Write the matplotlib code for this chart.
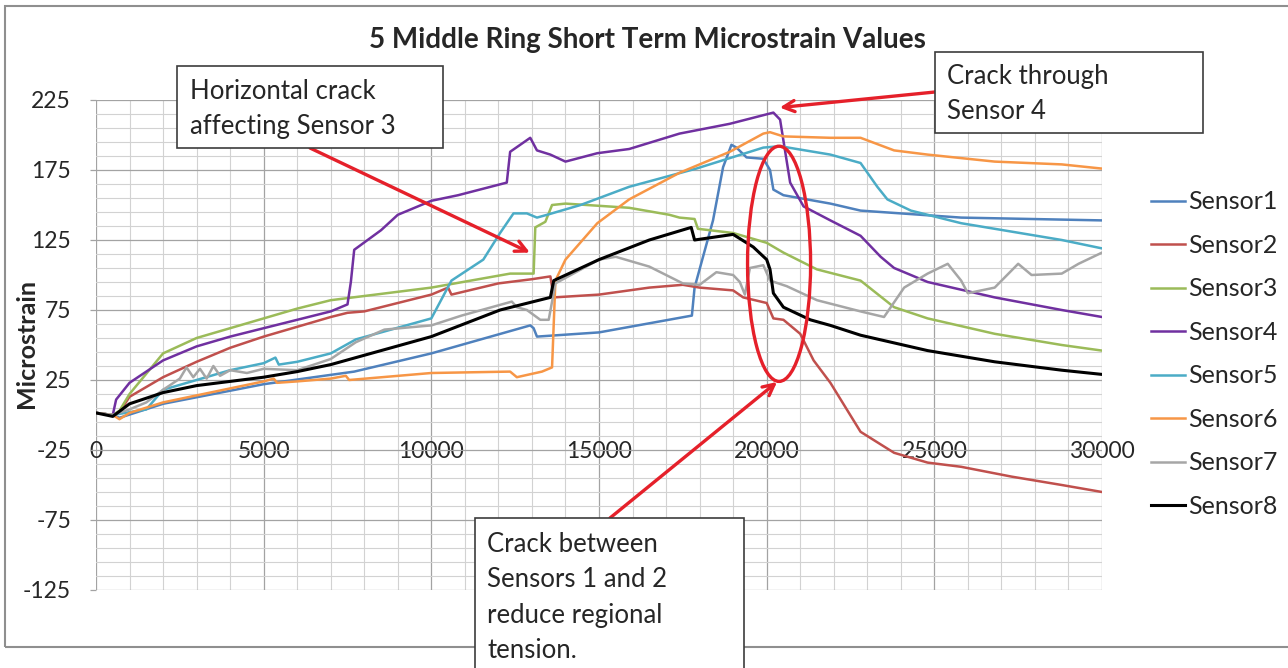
import numpy as np
import matplotlib.pyplot as plt
from matplotlib.patches import Rectangle, Ellipse

plt.rcParams['font.family'] = ['Lato', 'DejaVu Sans']
plt.rcParams['axes.unicode_minus'] = False

#################################
# Microstrain readings per sensor (x = reading number)
s1_x = [0, 500, 700, 2000, 5000, 7700, 10000, 12950, 13050, 13150, 15000, 17770,
        17850, 18400, 18700, 18950, 19100, 19400, 19900, 20100, 20200, 20500,
        21900, 22800, 25800, 30000]
s1_y = [1.5, 0, -2, 8, 22, 31, 44, 64, 62, 56, 59, 71,
        91, 139, 177, 193, 191, 184, 183, 175, 161, 157,
        151, 146, 141, 139]

s2_x = [0, 500, 700, 1000, 2000, 3000, 4000, 5000, 6000, 7000, 7500, 8000, 10000,
        10500, 10600, 12000, 13000, 13550, 13650, 15000, 16500, 17500, 18000, 19000,
        19300, 20000, 20200, 20500, 21000, 21400, 21900, 22800, 23800, 24800, 25800,
        27300, 28800, 30000]
s2_y = [1.5, 0, 2, 13, 27, 38, 48, 56, 63, 70, 73, 74, 86,
        91, 86, 94, 97, 99, 84, 86, 91, 93, 91, 89,
        84, 80, 69, 68, 58, 39, 23, -12, -27, -34, -37,
        -44, -50, -55]

s3_x = [0, 500, 700, 1000, 2000, 3000, 4000, 5000, 6000, 7000, 10000, 12350, 13050,
        13100, 13400, 13600, 14000, 15900, 17100, 17400, 17850, 17950, 19000, 20000,
        20500, 21500, 22800, 23800, 24800, 26800, 28800, 30000]
s3_y = [1.5, 0, 3, 15, 44, 55, 62, 69, 76, 82, 91, 101, 101,
        134, 138, 150, 151, 148, 143, 141, 140, 133, 130, 123,
        116, 104, 96, 77, 69, 58, 50, 46]

s4_x = [0, 500, 600, 1000, 2000, 3000, 4000, 5000, 6000, 7000, 7500, 7600, 7700,
        8500, 9000, 10000, 10800, 12250, 12350, 12650, 12950, 13150, 13550, 14000,
        14950, 15900, 17400, 18900, 20200, 20400, 20500, 20700, 21100, 21900, 22800,
        23400, 23800, 24800, 26800, 28800, 30000]
s4_y = [1.5, 0, 11, 23, 39, 49, 56, 62, 68, 74, 79, 95, 118,
        132, 143, 153, 157, 166, 188, 193, 198, 189, 186, 181,
        187, 190, 201, 208, 216, 211, 196, 166, 149, 139, 128,
        113, 105, 95, 84, 75, 70]

s5_x = [0, 500, 1500, 2000, 3000, 4000, 5000, 5350, 5450, 6000, 7000, 7750, 10000,
        10600, 11550, 12050, 12450, 12850, 13150, 13450, 14450, 15900, 17900, 19900,
        20400, 21900, 22800, 23300, 23600, 24300, 25800, 28800, 30000]
s5_y = [1.5, 0, 4, 18, 25, 32, 37, 41, 36, 38, 44, 54, 69,
        96, 111, 130, 144, 144, 141, 143, 150, 163, 176, 191,
        192, 186, 180, 163, 154, 146, 137, 125, 119]

s6_x = [0, 500, 700, 1000, 2000, 3000, 4000, 5000, 5300, 5400, 6000, 7000, 7450,
        7550, 10000, 12350, 12550, 13300, 13600, 13700, 14000, 14950, 15900, 17400,
        18900, 19900, 20100, 20500, 21900, 22800, 23800, 24800, 26800, 28800, 30000]
s6_y = [1.5, 0, -3, 1.5, 9, 14, 19, 24, 26, 23, 24, 26, 28,
        25, 30, 31, 27, 31, 34, 96, 111, 137, 154, 173,
        188, 201, 202, 199, 198, 198, 189, 186, 181, 179, 176]

s7_x = [0, 500, 1000, 1500, 2000, 2500, 2700, 2900, 3100, 3300, 3500, 3700, 4000,
        4500, 5000, 6000, 7000, 7750, 8600, 10000, 10900, 12400, 12550, 12850, 13250,
        13500, 13700, 15000, 15500, 16500, 17500, 18000, 18500, 19000, 19200, 19350,
        19500, 19900, 20100, 20600, 21500, 22800, 23500, 24100, 24800, 25400, 25800,
        26000, 26800, 27500, 27900, 28800, 29300, 30000]
s7_y = [1.5, 0, 4, 9, 18, 26, 34, 27, 33, 26, 35, 28, 32,
        30, 33, 32, 40, 52, 61, 64, 71, 81, 77, 75, 68,
        68, 94, 111, 113, 106, 94, 93, 102, 100, 95, 86,
        105, 107, 96, 92, 82, 74, 70, 91, 101, 108, 96,
        87, 91, 108, 100, 101, 108, 116]

s8_x = [0, 500, 1000, 2000, 3000, 4000, 5000, 6000, 7000, 7750, 10000, 12050, 13550,
        13650, 15000, 16500, 17750, 17850, 19000, 19600, 20000, 20100, 20200, 20500,
        21300, 21900, 22800, 24800, 26800, 28800, 30000]
s8_y = [1.5, -1, 8, 16, 21, 24, 27, 31, 36, 41, 56, 75, 84,
        96, 111, 125, 134, 125, 129, 120, 111, 104, 87, 77,
        68, 64, 57, 46, 38, 32, 29]

names = ['Sensor1', 'Sensor2', 'Sensor3', 'Sensor4',
         'Sensor5', 'Sensor6', 'Sensor7', 'Sensor8']
colors = ['#4f81bd', '#c0504d', '#9bbb59', '#7030a0',
          '#4bacc6', '#f79646', '#a6a6a6', '#000000']
xs = [s1_x, s2_x, s3_x, s4_x, s5_x, s6_x, s7_x, s8_x]
ys = [s1_y, s2_y, s3_y, s4_y, s5_y, s6_y, s7_y, s8_y]
#################################


W, H = 1288, 668
red = '#e5202a'
txt = '#262626'

def fx(px):
    return px / W

def fy(py):
    return 1 - py / H

fig = plt.figure(figsize=[W / 100, H / 100], dpi=100)
ax = fig.add_axes([fx(96), fy(590), (1102 - 96) / W, (590 - 100) / H])

for x, y, c, n in zip(xs, ys, colors, names):
    lw = 2.2 if n == 'Sensor8' else 1.8
    ax.plot(x, y, color=c, lw=lw, label=n, solid_joinstyle='round', zorder=3)

ax.set_xlim(0, 30000)
ax.set_ylim(-125, 225)
ax.set_xticks(np.arange(0, 30001, 5000))
ax.set_xticks(np.arange(0, 30001, 1000), minor=True)
ax.set_yticks(np.arange(-125, 226, 50))
ax.set_yticks(np.arange(-125, 226, 10), minor=True)
ax.grid(which='major', color='#a3a3a3', lw=0.9)
ax.grid(which='minor', color='#d2d2d2', lw=0.8)
ax.set_axisbelow(True)
for s in ax.spines.values():
    s.set_visible(False)
ax.spines['bottom'].set_position(('data', 0))
ax.tick_params(axis='x', which='both', length=0, pad=19, labelsize=16.5, labelcolor=txt)
ax.tick_params(axis='y', which='major', length=4, width=0.9, color='#a3a3a3',
               pad=14, labelsize=16.5, labelcolor=txt)
ax.tick_params(axis='y', which='minor', length=0)

fig.text(fx(647), fy(40), '5 Middle Ring Short Term Microstrain Values',
         ha='center', va='center', fontsize=20, fontweight='bold', color=txt)
fig.text(fx(27), fy(344), 'Microstrain', rotation=90, ha='center', va='center',
         fontsize=18, fontweight='bold', color=txt)

ax.legend(loc='center left', bbox_to_anchor=(fx(1151), fy(354)),
          bbox_transform=fig.transFigure, frameon=False, fontsize=18,
          handlelength=1.35, handletextpad=0.12, labelspacing=0.82,
          borderpad=0, borderaxespad=0, labelcolor=txt)

# chart frame
fig.add_artist(Rectangle((fx(5), fy(647)), fx(1300) - fx(5), fy(6) - fy(647),
                         transform=fig.transFigure, fill=False, ec='#8f8f8f',
                         lw=1.5, zorder=1))

# crack ellipse
ax.add_patch(Ellipse((20370, 108), 1880, 168, fill=False, ec=red, lw=2.4, zorder=5))

# callouts
def note(text, l, t, r, b, tx, ty):
    fig.add_artist(Rectangle((fx(l), fy(b)), fx(r) - fx(l), fy(t) - fy(b),
                             transform=fig.transFigure, fc='white', ec='#3c3c3c',
                             lw=1.2, zorder=5))
    fig.text(fx(tx), fy(ty), text, ha='left', va='top', fontsize=18.5,
             linespacing=1.52, color=txt, zorder=6)

def arrow(tip, px, py):
    ax.annotate('', xy=tip, xycoords='data', xytext=(fx(px), fy(py)),
                textcoords='figure fraction', annotation_clip=False,
                arrowprops=dict(arrowstyle='->, head_length=0.8, head_width=0.4',
                                color=red, lw=2.4, shrinkA=0, shrinkB=0),
                zorder=6)

arrow((12940, 116), 310, 148)
arrow((20390, 219.6), 935, 92)
arrow((20310, 23.6), 610, 518)

note('Horizontal crack\naffecting Sensor 3', 177, 66, 443, 148, 190, 79)
note('Crack through\nSensor 4', 935, 52, 1203, 133, 947, 64)
note('Crack between\nSensors 1 and 2\nreduce regional\ntension.', 475, 518, 744, 700, 487, 532)

plt.savefig('out.png', dpi=100)
